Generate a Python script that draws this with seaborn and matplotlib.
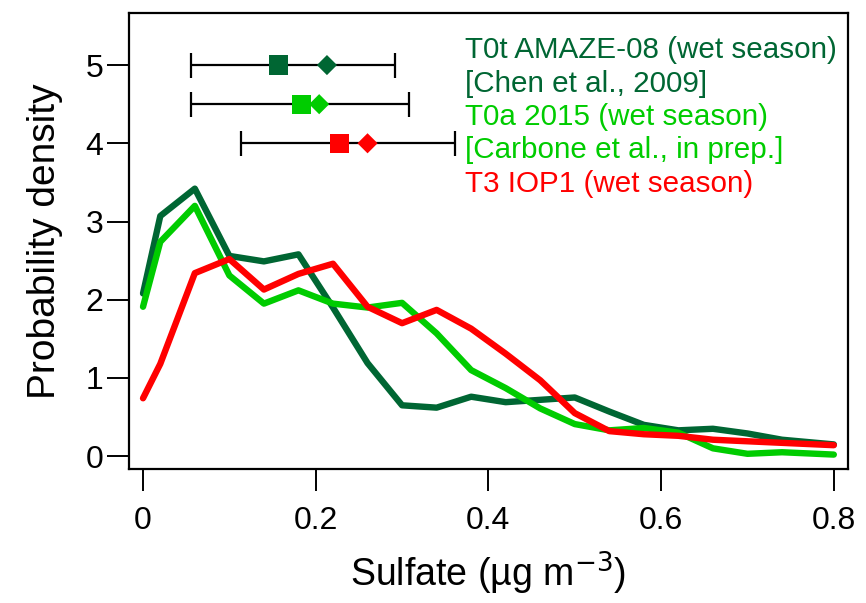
import matplotlib
matplotlib.use("Agg")
import matplotlib.pyplot as plt
import seaborn as sns
import pandas as pd

# ---------------- data ----------------
sulfate = [0.00, 0.02, 0.06, 0.10, 0.14, 0.18, 0.22, 0.26, 0.30, 0.34, 0.38,
           0.42, 0.46, 0.50, 0.54, 0.58, 0.62, 0.66, 0.70, 0.74, 0.78, 0.80]
t0t_density = [2.08, 3.07, 3.42, 2.56, 2.49, 2.58, 1.90, 1.19, 0.65, 0.62, 0.76,
               0.69, 0.72, 0.75, 0.57, 0.40, 0.33, 0.35, 0.29, 0.21, 0.17, 0.15]
t0a_density = [1.91, 2.74, 3.20, 2.31, 1.95, 2.12, 1.95, 1.90, 1.96, 1.57, 1.10,
               0.87, 0.61, 0.41, 0.33, 0.36, 0.30, 0.10, 0.03, 0.05, 0.03, 0.02]
t3_density = [0.74, 1.18, 2.34, 2.52, 2.13, 2.33, 2.46, 1.91, 1.70, 1.87, 1.63,
              1.31, 0.97, 0.55, 0.32, 0.28, 0.26, 0.21, 0.19, 0.17, 0.15, 0.14]

series_names = ["T0t", "T0a", "T3"]
series_colors = ["#006633", "#00CC00", "#FF0000"]

# summary statistics (row level, lower/upper whisker, median (square), mean (diamond))
summary_row = [5.0, 4.5, 4.0]
summary_low = [0.055, 0.055, 0.113]
summary_high = [0.292, 0.308, 0.361]
summary_median = [0.157, 0.184, 0.228]
summary_mean = [0.213, 0.204, 0.260]

legend_lines = ["T0t AMAZE-08 (wet season)", "[Chen et al., 2009]",
                "T0a 2015 (wet season)", "[Carbone et al., in prep.]",
                "T3 IOP1 (wet season)"]
legend_colors = ["#006633", "#006633", "#00CC00", "#00CC00", "#FF0000"]
legend_y = [5.09, 4.66, 4.23, 3.81, 3.38]

x_ticks = [0, 0.2, 0.4, 0.6, 0.8]
x_ticklabels = ["0", "0.2", "0.4", "0.6", "0.8"]
y_ticks = [0, 1, 2, 3, 4, 5]

# ---------------- frames ----------------
dens = pd.DataFrame({
    "sulfate": sulfate * 3,
    "density": t0t_density + t0a_density + t3_density,
    "series": [series_names[0]] * len(sulfate) + [series_names[1]] * len(sulfate)
              + [series_names[2]] * len(sulfate),
})
summ = pd.DataFrame({
    "series": series_names, "row": summary_row, "low": summary_low,
    "high": summary_high, "median": summary_median, "mean": summary_mean,
})
palette = dict(zip(series_names, series_colors))

# ---------------- plot ----------------
sns.set_theme(style="white")
plt.rcParams["font.family"] = ["Liberation Sans", "DejaVu Sans"]

fig = plt.figure(figsize=(8.66, 6.03), dpi=100)
ax = fig.add_axes([0.149, 0.222, 0.830, 0.757])

sns.lineplot(data=dens, x="sulfate", y="density", hue="series", palette=palette,
             hue_order=series_names, estimator=None, sort=False, linewidth=4.6,
             legend=False, ax=ax)

ax.errorbar(summ["median"], summ["row"],
            xerr=[summ["median"] - summ["low"], summ["high"] - summ["median"]],
            fmt="none", ecolor="black", elinewidth=1.6, capsize=9, capthick=1.6,
            zorder=3)
sns.scatterplot(data=summ, x="median", y="row", hue="series", palette=palette,
                hue_order=series_names, marker="s", s=190, linewidth=0,
                legend=False, ax=ax, zorder=4)
sns.scatterplot(data=summ, x="mean", y="row", hue="series", palette=palette,
                hue_order=series_names, marker="D", s=105, linewidth=0,
                legend=False, ax=ax, zorder=4)

for txt, col, yy in zip(legend_lines, legend_colors, legend_y):
    ax.text(0.3727, yy, txt, color=col, fontsize=21.3, va="baseline", ha="left")

ax.set_xlim(-0.0162, 0.8162)
ax.set_ylim(-0.166, 5.67)
ax.set_xticks(x_ticks)
ax.set_xticklabels(x_ticklabels)
ax.set_yticks(y_ticks)

for s in ax.spines.values():
    s.set_visible(True)
    s.set_color("black")
    s.set_linewidth(1.6)

ax.tick_params(axis="both", which="major", direction="out", length=15.5,
               width=1.4, color="black", labelsize=23, labelcolor="black",
               bottom=True, left=True, top=False, right=False)
ax.tick_params(axis="x", pad=11)
ax.tick_params(axis="y", pad=3)

ax.set_xlabel("Sulfate (µg m$^{-3}$)", fontsize=27, color="black", labelpad=10)
ax.set_ylabel("Probability density", fontsize=28, color="black", labelpad=16)

fig.savefig("out.png", dpi=100)
